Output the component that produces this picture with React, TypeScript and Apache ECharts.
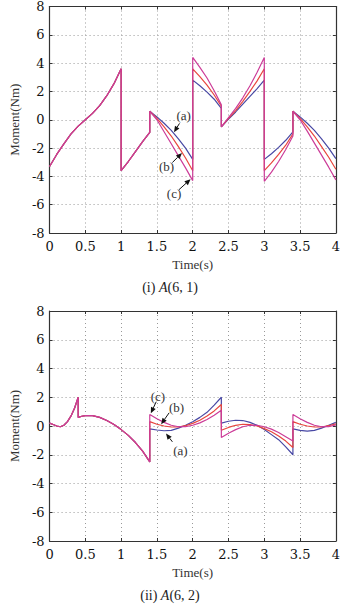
import React, { useEffect, useRef } from "react";
import * as echarts from "echarts";

// ---- Panel (i): A(6, 1) ----
const timeI = [
  0, 0.1, 0.2, 0.3, 0.4, 0.5, 0.6, 0.7, 0.8, 0.9, 1.0,
  1.0, 1.1, 1.2, 1.3, 1.4,
  1.4, 1.5, 1.6, 1.7, 1.8, 1.9, 2.0,
  2.0, 2.1, 2.2, 2.3, 2.4,
  2.4, 2.5, 2.6, 2.7, 2.8, 2.9, 3.0,
  3.0, 3.1, 3.2, 3.3, 3.4,
  3.4, 3.5, 3.6, 3.7, 3.8, 3.9, 4.0,
];
// shared part of all three responses up to t = 1.4
const sharedI = [
  -3.3, -2.45, -1.7, -1.0, -0.45, 0.0, 0.45, 1.0, 1.7, 2.55, 3.6,
  -3.6, -2.95, -2.25, -1.55, -0.9,
];
const curveIa = [
  0.6, 0.2, -0.25, -0.75, -1.35, -2.0, -2.8,
  2.8, 2.4, 1.95, 1.45, 0.8,
  -0.5, 0.05, 0.55, 1.1, 1.65, 2.2, 2.8,
  -2.8, -2.4, -1.95, -1.45, -0.85,
  0.6, 0.2, -0.25, -0.75, -1.35, -2.0, -2.75,
];
const curveIb = [
  0.6, 0.1, -0.5, -1.15, -1.9, -2.7, -3.6,
  3.6, 3.05, 2.45, 1.75, 0.95,
  -0.5, 0.1, 0.65, 1.3, 2.0, 2.75, 3.6,
  -3.6, -3.05, -2.45, -1.8, -1.0,
  0.6, 0.1, -0.5, -1.15, -1.9, -2.65, -3.5,
];
const curveIc = [
  0.6, 0.0, -0.85, -1.7, -2.55, -3.4, -4.3,
  4.4, 3.7, 2.95, 2.05, 1.05,
  -0.5, 0.15, 0.8, 1.55, 2.4, 3.35, 4.4,
  -4.35, -3.7, -2.95, -2.1, -1.15,
  0.6, 0.0, -0.8, -1.65, -2.5, -3.35, -4.25,
];

// ---- Panel (ii): A(6, 2) ----
const timeII = [
  0, 0.05, 0.1, 0.15, 0.2, 0.25, 0.3, 0.35, 0.4,
  0.4, 0.45, 0.5, 0.55, 0.6, 0.7, 0.8, 0.9, 1.0, 1.1, 1.2, 1.3, 1.4,
  1.4, 1.5, 1.6, 1.7, 1.8, 1.9, 2.0, 2.1, 2.2, 2.3, 2.4,
  2.4, 2.5, 2.6, 2.7, 2.8, 2.9, 3.0, 3.1, 3.2, 3.3, 3.4,
  3.4, 3.5, 3.6, 3.7, 3.8, 3.9, 4.0,
];
const sharedII = [
  0.2, 0.1, 0.0, -0.05, 0.05, 0.3, 0.7, 1.25, 2.0,
  0.6, 0.68, 0.72, 0.73, 0.72, 0.6, 0.38, 0.1, -0.25, -0.65, -1.15, -1.75, -2.5,
];
const curveIIa = [
  -0.2, -0.28, -0.33, -0.3, -0.15, 0.05, 0.3, 0.6, 0.95, 1.45, 2.0,
  0.2, 0.33, 0.4, 0.38, 0.25, 0.05, -0.25, -0.6, -0.95, -1.45, -2.0,
  -0.2, -0.3, -0.35, -0.3, -0.15, 0.05, 0.25,
];
const curveIIb = [
  0.3, 0.12, 0.0, -0.07, -0.07, 0.02, 0.18, 0.4, 0.7, 1.05, 1.5,
  -0.3, -0.1, 0.05, 0.12, 0.1, 0.0, -0.18, -0.4, -0.7, -1.05, -1.5,
  0.3, 0.12, 0.0, -0.07, -0.07, 0.02, 0.15,
];
const curveIIc = [
  0.8, 0.5, 0.25, 0.05, -0.05, -0.05, 0.05, 0.22, 0.45, 0.75, 1.1,
  -0.8, -0.5, -0.25, -0.05, 0.05, 0.05, -0.05, -0.22, -0.45, -0.75, -1.05,
  0.8, 0.5, 0.25, 0.05, -0.05, -0.05, 0.08,
];

const xTicks = { min: 0, max: 4, interval: 0.5 };
const yTicks = { min: -8, max: 8, interval: 2 };
const captions = ["(i) {i|A}(6, 1)", "(ii) {i|A}(6, 2)"];
const curveNames = ["(a)", "(b)", "(c)"];
const curveColors = ["#4848a4", "#e8463e", "#cc3c98"];

// label callouts per panel: [label, textT, textV, fromT, fromV, tipT, tipV]
const calloutsI: [string, number, number, number, number, number, number][] = [
  ["(a)", 1.873, 0.28, 1.815, -0.26, 1.739, -0.88],
  ["(b)", 1.635, -3.32, 1.716, -3.02, 1.85, -2.35],
  ["(c)", 1.739, -5.23, 1.806, -4.95, 1.97, -4.2],
];
const calloutsII: [string, number, number, number, number, number, number][] = [
  ["(c)", 1.513, 2.08, 1.49, 1.69, 1.415, 0.88],
  ["(b)", 1.775, 1.3, 1.671, 0.92, 1.559, 0.13],
  ["(a)", 1.829, -1.68, 1.716, -1.1, 1.627, -0.52],
];

const FONT = "Liberation Serif";
const TICK_FONT = "DejaVu Serif";

const zip = (t: number[], v: number[]) => t.map((x, i) => [x, v[i]]);

export default function App() {
  const ref = useRef<HTMLDivElement>(null);

  useEffect(() => {
    if (!ref.current) return;
    const chart = echarts.init(ref.current, undefined, { renderer: "svg" });

    const grids = [
      { left: 41, right: 5, top: 4, height: 229 },
      { left: 41, right: 5, top: 311, height: 230 },
    ];

    const frameLine = { show: true, onZero: false, lineStyle: { color: "#333", width: 1.2 } };
    const innerTick = { show: true, inside: true, length: 3, lineStyle: { color: "#333" } };
    const dotted = { show: true, lineStyle: { color: "#999", type: [1, 3], width: 1 } };

    const xAxes: any[] = [];
    const yAxes: any[] = [];
    grids.forEach((_, gi) => {
      xAxes.push({
        type: "value",
        gridIndex: gi,
        ...xTicks,
        position: "bottom",
        name: "Time(s)",
        nameLocation: "middle",
        nameGap: 25,
        nameTextStyle: { fontFamily: FONT, fontSize: 13, color: "#333" },
        axisLine: frameLine,
        axisTick: innerTick,
        axisLabel: { fontFamily: TICK_FONT, fontSize: 13, color: "#111", margin: 7 },
        splitLine: dotted,
      });
      xAxes.push({
        type: "value",
        gridIndex: gi,
        ...xTicks,
        position: "top",
        axisLine: frameLine,
        axisTick: innerTick,
        axisLabel: { show: false },
        splitLine: { show: false },
      });
      yAxes.push({
        type: "value",
        gridIndex: gi,
        ...yTicks,
        position: "left",
        name: "Moment(Nm)",
        nameLocation: "middle",
        nameRotate: 90,
        nameGap: 27,
        nameTextStyle: { fontFamily: FONT, fontSize: 13, color: "#333" },
        axisLine: frameLine,
        axisTick: innerTick,
        axisLabel: { fontFamily: TICK_FONT, fontSize: 13, color: "#111", margin: 5 },
        splitLine: dotted,
      });
      yAxes.push({
        type: "value",
        gridIndex: gi,
        ...yTicks,
        position: "right",
        axisLine: frameLine,
        axisTick: innerTick,
        axisLabel: { show: false },
        splitLine: { show: false },
      });
    });

    const panelData = [
      { t: timeI, shared: sharedI, curves: [curveIa, curveIb, curveIc] },
      { t: timeII, shared: sharedII, curves: [curveIIa, curveIIb, curveIIc] },
    ];

    const series: any[] = [];
    panelData.forEach((p, gi) => {
      p.curves.forEach((c, ci) => {
        series.push({
          type: "line",
          name: curveNames[ci],
          xAxisIndex: gi * 2,
          yAxisIndex: gi * 2,
          data: zip(p.t, [...p.shared, ...c]),
          showSymbol: false,
          symbol: "none",
          lineStyle: { color: curveColors[ci], width: 1.2 },
          itemStyle: { color: curveColors[ci] },
          z: 3 + ci,
        });
      });
    });

    chart.setOption({
      animation: false,
      backgroundColor: "#fff",
      grid: grids,
      xAxis: xAxes,
      yAxis: yAxes,
      series,
    });

    // callouts and captions placed through the grids' own coordinate systems
    const graphics: any[] = [];
    [calloutsI, calloutsII].forEach((list, gi) => {
      list.forEach(([label, tt, tv, ft, fv, pt, pv]) => {
        const finder = { xAxisIndex: gi * 2, yAxisIndex: gi * 2 };
        const txt = chart.convertToPixel(finder, [tt, tv]) as number[];
        const from = chart.convertToPixel(finder, [ft, fv]) as number[];
        const tip = chart.convertToPixel(finder, [pt, pv]) as number[];
        graphics.push({
          type: "text",
          x: txt[0],
          y: txt[1],
          style: {
            text: label,
            fontFamily: FONT,
            fontSize: 13,
            fill: "#333",
            align: "center",
            verticalAlign: "middle",
          },
          z: 10,
        });
        const dx = tip[0] - from[0];
        const dy = tip[1] - from[1];
        const len = Math.hypot(dx, dy) || 1;
        const ux = dx / len;
        const uy = dy / len;
        const headL = 6;
        const headW = 2.6;
        const bx = tip[0] - ux * headL;
        const by = tip[1] - uy * headL;
        graphics.push({
          type: "line",
          shape: { x1: from[0], y1: from[1], x2: bx, y2: by },
          style: { stroke: "#111", lineWidth: 1 },
          z: 10,
        });
        graphics.push({
          type: "polygon",
          shape: {
            points: [
              [tip[0], tip[1]],
              [bx - uy * headW, by + ux * headW],
              [bx + uy * headW, by - ux * headW],
            ],
          },
          style: { fill: "#111" },
          z: 10,
        });
      });
    });
    const captionY = [287, 595];
    captions.forEach((c, i) => {
      graphics.push({
        type: "text",
        x: 170,
        y: captionY[i],
        style: {
          text: c,
          fontFamily: FONT,
          fontSize: 14,
          fill: "#222",
          align: "center",
          verticalAlign: "middle",
          rich: { i: { fontStyle: "italic", fontFamily: FONT, fontSize: 14, fill: "#222" } },
        },
        z: 10,
      });
    });
    chart.setOption({ graphic: graphics });

    return () => chart.dispose();
  }, []);

  return (
    <div
      ref={ref}
      style={{ position: "fixed", left: 0, top: 0, width: 343, height: 606, background: "#fff" }}
    />
  );
}
